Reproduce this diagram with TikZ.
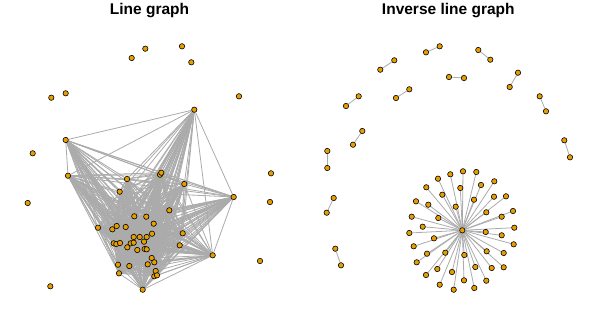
\documentclass[tikz,border=0pt]{standalone}
\usepackage{fontspec}
\setsansfont{Liberation Sans}
\usepackage{tikz}
\usetikzlibrary{backgrounds}
\definecolor{VertexFill}{HTML}{E69F00}
\definecolor{EdgeGrey}{HTML}{ABABAB}
\tikzset{
  vertexnode/.style={circle,draw=black,fill=VertexFill,line width=0.6pt,minimum size=5.4pt,inner sep=0pt},
  edgeline/.style={draw=EdgeGrey,line width=0.8pt},
  titlenode/.style={font=\sffamily\bfseries\fontsize{15.5}{18}\selectfont,anchor=base,inner sep=0pt}
}
\begin{document}
\begin{tikzpicture}[x=1pt,y=-1pt]
\useasboundingbox (0,0) rectangle (598,333);
\node[titlenode] (lgtitle) at (149.5,14.5) {Line graph};
\node[titlenode] (ilgtitle) at (448.3,14.5) {Inverse line graph};
% line graph: complete part
\foreach \x/\y [count=\n] in {194.3/109.7,65.7/140,68/175.7,127/179,160/174.7,161.3/172.7,
  184.3/184,119.7/191.7,233.7/197,169.3/210.3,134.3/216.3,146.3/216.7,153.7/223.7,
  98/227.7,112.3/229.3,116.7/226,125.7/227,182.7/233.3,152/233.7,133.7/237,139.7/237,
  146.7/237,144/241.7,113.7/243.3,116.3/244,120/243,130.7/243.3,133.7/242.7,127.3/247.3,
  137.3/250,144.7/249,146.7/249.3,179.7/245.3,212.7/255.3,151.7/258,154.3/262.3,
  118/264.7,129.3/266,147.7/264.3,155.7/271,119/273.3,154.3/276.3,157/275.3,142.7/289.7}
  \node[vertexnode] (l\n) at (\x,\y) {};
\begin{scope}[on background layer]
\foreach \i in {1,...,43} {
  \pgfmathtruncatemacro\k{\i+1}
  \foreach \j in {\k,...,44}
    \draw[edgeline] (l\i) -- (l\j);
}
\end{scope}
% line graph: isolated vertices
\foreach \x/\y [count=\n] in {131.7/58,145.3/48.7,182/46.3,191.3/62.3,51.3/97.7,65.7/93.3,
  239/96.3,32.7/153.3,27.7/203,271/173.3,270/202,260/261,50.3/286.3}
  \node[vertexnode] (i\n) at (\x,\y) {};
% inverse line graph: single edges
\foreach \xa/\ya/\xb/\yb [count=\n] in {426/52.3/439.7/46.3,478.3/50/490.3/59.7,
  380.3/69.7/394.3/60.3,449/77/464/78,509.7/87/518/72.7,346/106/358.7/96.3,
  396/98/409.3/89.3,539.7/96.3/546/111.3,353/144.7/362.3/131,327.3/151/327.3/168,
  564.3/140.3/570/157.3,333.7/198/326.7/212.7,335.3/248.7/341/265.3} {
  \node[vertexnode] (pa\n) at (\xa,\ya) {};
  \node[vertexnode] (pb\n) at (\xb,\yb) {};
  \begin{scope}[on background layer]
    \draw[edgeline] (pa\n) -- (pb\n);
  \end{scope}
}
% inverse line graph: star
\node[vertexnode] (hub) at (462.3,230.3) {};
\foreach \x/\y [count=\n] in {463/171.3,476.3/172,450.3/174.3,438/178.7,481/185,494.3/181.3,
  426.3/187.3,460.3/188,442.3/194.7,494/196.7,506/196.3,474/199.7,416/201.3,428.3/204.7,
  455.7/206.7,513/211,486.3/212.3,501.7/216.7,411.7/216.7,438.3/218,422.7/226.7,
  514.3/227.7,409.3/233,485.7/232,501.7/235.3,434/238.3,513.7/244.3,413.7/246.3,
  486.7/251.3,445.3/252.7,427/253.7,503.7/253,464.3/255,416.7/262.3,475.3/267,
  491.7/268,503.7/267.3,437.3/269,452/272,426/275,464/280.3,486.3/280.7,439.7/284.7,
  474.3/288,453.7/289.7} {
  \node[vertexnode] (s\n) at (\x,\y) {};
  \begin{scope}[on background layer]
    \draw[edgeline] (hub) -- (s\n);
  \end{scope}
}
\end{tikzpicture}
\end{document}
